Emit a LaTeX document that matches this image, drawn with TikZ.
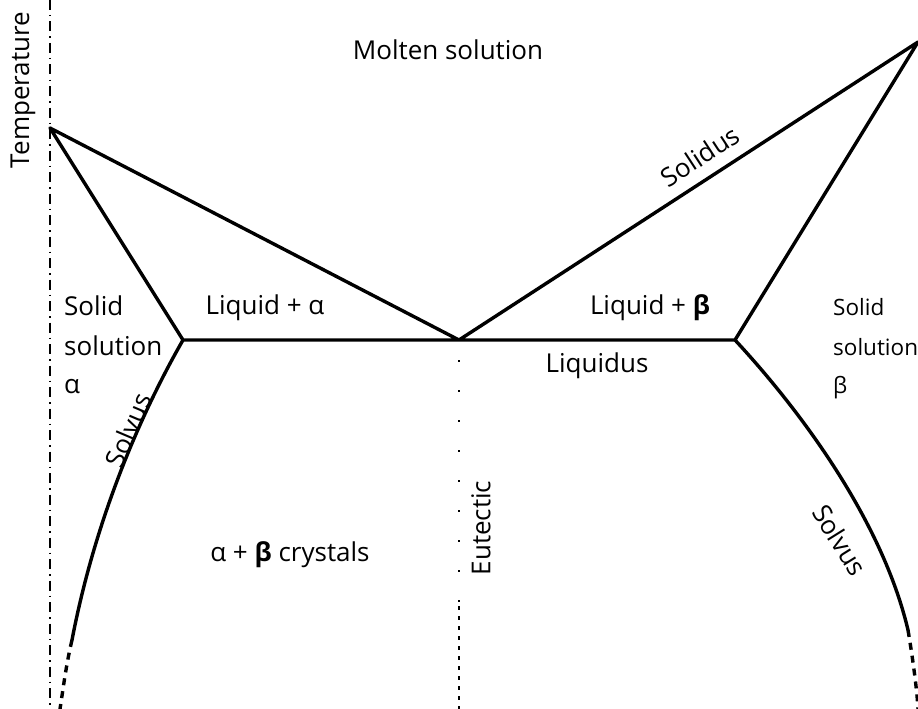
\documentclass[tikz,border=0pt]{standalone}
\usepackage{fontspec}
\setmainfont{Open Sans}
\begin{document}
\begin{tikzpicture}[x=1pt,y=-1pt,
  curve/.style={line width=3.4pt,line cap=round,line join=round},
  dcurve/.style={line width=3.4pt,dash pattern=on 7pt off 6pt},
  axisline/.style={line width=1.4pt,dash pattern=on 10pt off 5pt on 1.5pt off 5pt},
  eutdots/.style={line width=1.6pt,dash pattern=on 2pt off 28pt},
  eutdash/.style={line width=1.6pt,dash pattern=on 4pt off 6pt},
  lbl/.style={font=\fontsize{26}{30}\selectfont,inner sep=0pt},
  lbls/.style={font=\fontsize{22.5}{27}\selectfont,inner sep=0pt}]
\useasboundingbox (0,0) rectangle (918,709);
% points
\coordinate (axtop) at (50,0);
\coordinate (axbot) at (50,709);
\coordinate (A) at (50,128);
\coordinate (B) at (918,42);
\coordinate (E) at (459,340);
\coordinate (L) at (183,340);
\coordinate (R) at (735,340);
\coordinate (Lm) at (72,640);
\coordinate (Lb) at (60,709);
\coordinate (Rm) at (908,630);
\coordinate (Rb) at (918,709);
\coordinate (Et) at (459,360);
\coordinate (Em) at (459,606);
\coordinate (Eb) at (459,709);
% axis and eutectic
\draw[axisline] (axtop) -- (axbot);
\draw[eutdots] (Et) -- (Em);
\draw[eutdash] (Em) -- (Eb);
% lines
\draw[curve] (A) -- (E) -- (B) -- (R) -- (L) -- cycle;
\draw[curve] (L) .. controls (140,415) and (95,520) .. (Lm);
\draw[dcurve] (Lm) .. controls (66,665) and (63,690) .. (Lb);
\draw[curve] (R) .. controls (800,410) and (882,520) .. (Rm);
\draw[dcurve] (Rm) .. controls (913,660) and (917,690) .. (Rb);
% labels
\node[lbl,rotate=90] (temp) at (23,90) {Temperature};
\node[lbl] (molten) at (448,50) {Molten solution};
\node[lbl,rotate=33.1] (solidus) at (700,156) {Solidus};
\node[lbl] (liqa) at (265,308) {Liquid + α};
\node[lbl] (liqb) at (650,308) {Liquid + \textbf{β}};
\node[lbl,anchor=base west] (ssa1) at (64,315) {Solid};
\node[lbl,anchor=base west] (ssa2) at (64,355) {solution};
\node[lbl,anchor=base west] (ssa3) at (64,393) {α};
\node[lbls,anchor=base west] (ssb1) at (833,315) {Solid};
\node[lbls,anchor=base west] (ssb2) at (833,355) {solution};
\node[lbls,anchor=base west] (ssb3) at (833,393) {β};
\node[lbl] (liquidus) at (597,366) {Liquidus};
\node[lbl,rotate=67] (solvl) at (128,430) {Solvus};
\node[lbl,rotate=-58] (solvr) at (840,540) {Solvus};
\node[lbl] (cryst) at (290,555) {α + \textbf{β} crystals};
\node[lbl,rotate=90] (eut) at (481,528) {Eutectic};
\end{tikzpicture}
\end{document}
